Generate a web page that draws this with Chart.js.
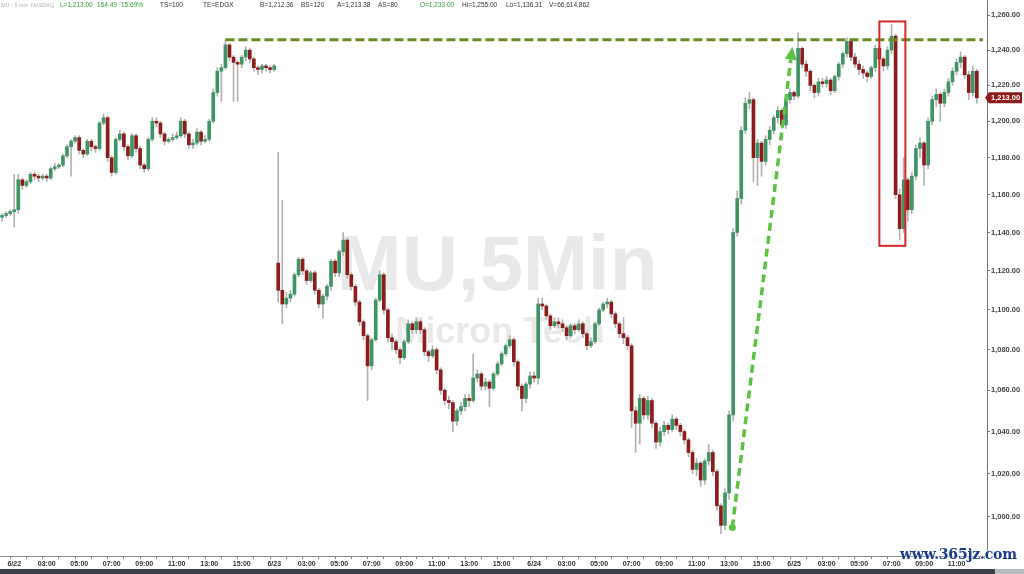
<!DOCTYPE html>
<html><head><meta charset="utf-8">
<script src="https://cdn.jsdelivr.net/npm/chart.js@4.4.1/dist/chart.umd.min.js"></script>
<style>
html,body{margin:0;padding:0;background:#fff;}
#wrap{position:relative;width:1024px;height:574px;overflow:hidden;background:#fff;}
#c{position:absolute;left:0;top:0;}
.h{position:absolute;top:1px;font:6.5px Arial,"Liberation Sans",sans-serif;white-space:nowrap;line-height:8px;}
.h.g{font-size:5.5px;}
#strip{position:absolute;left:0;top:569px;width:1024px;height:5px;background:#3b4046;}
#strip2{position:absolute;left:995px;top:569px;width:29px;height:5px;background:#b9bdc1;}
#site{position:absolute;left:900px;top:546px;font:bold 14px "DejaVu Serif",serif;color:#1d3a8a;text-shadow:0 0 2px #fff,0 0 2px #fff,0 0 1px #fff;letter-spacing:-0.2px;}
</style></head><body>
<div id="wrap">
<canvas id="c" width="1024" height="574"></canvas>
<div id="hdr"></div>
<div id="strip"></div><div id="strip2"></div>
<div id="site">www.365jz.com</div>
</div>
<script>
// ---- data (15-minute candles) ----
const sessions = ['6/22','6/23','6/24','6/25'];
const hourLabels = ['03:00','05:00','07:00','09:00','11:00','13:00','15:00'];
const yTickValues = [1000,1020,1040,1060,1080,1100,1120,1140,1160,1180,1200,1220,1240,1260];
const firstOpen = 1148;
const gapOpens = {68: 1124};
const closes = [
 // 6/21 late + 6/22
 1149,1150,1151,1152,1168,1165,1167,1171,1170,1169,
 1170,1169,1174,1175,1176,1181,1186,1189,1191,1184,
 1182,1189,1186,1185,1199,1202,1180,1172,1190,1193,
 1186,1181,1192,1185,1176,1174,1190,1200,1199,1193,
 1189,1190,1191,1192,1200,1193,1187,1188,1194,1189,
 1190,1200,1216,1228,1230,1243,1236,1233,1232,1236,
 1240,1235,1230,1229,1231,1230,1229,1231,
 // 6/23
 1110,1103,1106,1108,1118,1126,1120,1115,1119,1110,
 1103,1107,1112,1125,1119,1130,1136,1118,1112,1104,
 1094,1087,1072,1085,1105,1118,1100,1086,1084,1080,
 1076,1084,1093,1090,1094,1090,1079,1077,1080,1070,
 1060,1055,1054,1045,1050,1052,1056,1055,1066,1068,
 1062,1064,1061,1068,1073,1078,1082,1085,1074,1062,
 1056,1063,1067,1066,
 // 6/24
 1103,1102,1097,1092,1094,1093,1091,1087,1092,1090,
 1093,1088,1082,1084,1093,1100,1103,1104,1098,1093,
 1088,1086,1082,1050,1044,1056,1048,1055,1044,1035,
 1040,1043,1041,1046,1043,1040,1036,1030,1022,1025,
 1017,1026,1030,1021,1005,996,1011,1048,1140,1158,
 1195,1210,1212,1180,1188,1178,1190,1195,1202,1206,
 1198,1212,1216,1214,
 // 6/25
 1241,1232,1228,1220,1216,1222,1221,1223,1217,1225,
 1232,1238,1245,1236,1232,1229,1227,1225,1230,1241,
 1235,1231,1240,1248,1160,1142,1168,1152,1170,1185,
 1188,1176,1200,1212,1215,1210,1216,1222,1228,1233,
 1236,1226,1216,1228,1213
];
const highs = [
 1150,1151,1152,1171,1171,1169,1168,1172,1172,1171,
 1171,1171,1175,1177,1177,1182,1187,1190,1192,1192,
 1185,1190,1190,1187,1200,1204,1203,1181,1191,1195,
 1194,1187,1193,1193,1186,1177,1191,1202,1202,1200,
 1194,1191,1193,1194,1202,1201,1194,1190,1196,1195,
 1192,1201,1218,1230,1232,1246,1244,1237,1234,1237,
 1242,1241,1236,1231,1232,1232,1231,1232,
 1183,1157,1109,1110,1119,1127,1127,1121,1120,1120,
 1111,1108,1113,1126,1126,1131,1140,1137,1119,1113,
 1105,1095,1088,1086,1106,1120,1119,1101,1088,1085,
 1081,1085,1095,1094,1096,1095,1091,1080,1082,1081,
 1071,1061,1057,1055,1051,1054,1058,1058,1078,1070,
 1069,1066,1065,1069,1074,1079,1083,1087,1086,1075,
 1063,1064,1069,1069,
 1106,1106,1103,1098,1096,1096,1095,1092,1093,1093,
 1095,1094,1089,1086,1094,1101,1104,1106,1105,1099,
 1094,1096,1087,1083,1052,1058,1057,1057,1056,1045,
 1042,1045,1044,1048,1047,1044,1041,1037,1031,1027,
 1026,1027,1034,1031,1022,1006,1013,1050,1142,1162,
 1197,1213,1216,1213,1190,1189,1192,1197,1203,1208,
 1207,1213,1218,1217,
 1250,1242,1234,1229,1221,1224,1224,1225,1224,1226,
 1233,1239,1247,1246,1238,1234,1231,1228,1231,1243,
 1242,1236,1242,1255,1249,1163,1180,1169,1172,1187,
 1191,1189,1202,1214,1218,1216,1218,1224,1230,1235,
 1239,1237,1228,1231,1229
];
const lows = [
 1146,1148,1149,1143,1150,1163,1164,1166,1168,1167,
 1168,1167,1168,1173,1174,1175,1180,1170,1188,1182,
 1180,1181,1184,1183,1184,1198,1178,1170,1171,1189,
 1184,1179,1180,1183,1174,1172,1173,1189,1197,1191,
 1187,1188,1189,1190,1191,1191,1185,1185,1187,1187,
 1188,1189,1199,1214,1211,1229,1234,1211,1211,1230,
 1234,1233,1228,1226,1227,1228,1227,1228,
 1104,1093,1101,1104,1107,1117,1118,1113,1114,1108,
 1101,1096,1105,1110,1117,1117,1128,1116,1110,1102,
 1092,1085,1055,1070,1084,1104,1098,1084,1080,1078,
 1073,1075,1083,1088,1088,1088,1077,1074,1076,1068,
 1058,1053,1051,1040,1043,1048,1050,1052,1054,1064,
 1060,1060,1052,1060,1067,1072,1077,1081,1072,1060,
 1050,1054,1061,1064,
 1063,1100,1095,1090,1091,1091,1089,1085,1086,1088,
 1089,1086,1080,1081,1083,1092,1099,1101,1096,1091,
 1086,1083,1080,1042,1030,1034,1046,1046,1042,1032,
 1033,1038,1039,1040,1041,1038,1034,1028,1020,1019,
 1014,1015,1024,1019,1003,992,994,1008,1045,1138,
 1155,1193,1207,1167,1165,1170,1176,1187,1193,1199,
 1196,1196,1210,1212,
 1213,1230,1225,1217,1213,1214,1219,1219,1215,1216,
 1223,1230,1236,1234,1230,1226,1224,1222,1224,1228,
 1232,1228,1229,1238,1158,1136,1140,1146,1150,1168,
 1180,1165,1174,1198,1208,1200,1208,1214,1220,1226,
 1230,1224,1212,1214,1210
];
// annotations in data coordinates (slot index, price)
const resistance = {level: 1246, fromSlot: 55};
const rallyArrow = {from: [179.8, 995], to: [194.6, 1242]};
const reversalBox = {x0: 216, x1: 222.4, top: 1256.5, bottom: 1133};
const header = [
 ['MU - 5 min',1,'#b4b4b4','g'],['NASDAQ',31,'#b4b4b4','g'],
 ['L=1,213.00',60,'#2f9a35',''],['164.49',97,'#2f9a35',''],['15.69%',121,'#2f9a35',''],
 ['TS=100',160,'#333',''],['TE=EDGX',203,'#333',''],['B=1,212.36',260,'#333',''],['BS=120',301,'#333',''],
 ['A=1,213.38',337,'#333',''],['AS=80',378,'#333',''],['O=1,233.00',420,'#2f9a35',''],
 ['Hi=1,255.00',462,'#333',''],['Lo=1,136.31',506,'#333',''],['V=66,614,862',549,'#333','']
];
</script>
<script>
const hdr = document.getElementById('hdr');
header.forEach(([t,l,c,k])=>{const s=document.createElement('span');s.className='h '+k;s.textContent=t;s.style.left=l+'px';s.style.color=c;hdr.appendChild(s);});

const SLOTS = 243, PRE = 4, PER_DAY = 64;
const labels = [];
for (let i=0;i<SLOTS;i++){
  if (i<PRE){ labels.push('6/21 16:'+String(i*15).padStart(2,'0')); continue; }
  const d = Math.floor((i-PRE)/PER_DAY), k=(i-PRE)%PER_DAY;
  const hh = 1+Math.floor(k/4), mm=(k%4)*15;
  labels.push((sessions[d]||'6/26')+' '+String(hh).padStart(2,'0')+':'+String(mm).padStart(2,'0'));
}
function tickText(i){
  if (i<PRE) return '';
  const k=(i-PRE)%PER_DAY, d=Math.floor((i-PRE)/PER_DAY);
  if (k===0) return sessions[d]||'';
  if (k%8===0) return hourLabels[k/8-1]||'';
  return '';
}
const opens = closes.map((c,i)=> i===0 ? firstOpen : (gapOpens[i]!==undefined ? gapOpens[i] : closes[i-1]));
const UP='#3f9466', DOWN='#8c1c1c', WICK='#b2b2b2';
const bodyColors = closes.map((c,i)=> c>=opens[i]?UP:DOWN);

const decor = {
  id:'decor',
  beforeDatasetsDraw(chart){
    const ctx=chart.ctx; ctx.save();
    ctx.fillStyle='#e9e9e9'; ctx.textAlign='center'; ctx.textBaseline='alphabetic';
    ctx.font='bold 78px Arial, "Liberation Sans", sans-serif';
    ctx.fillText('MU,5Min', 497, 290);
    ctx.font='bold 36px Arial, "Liberation Sans", sans-serif';
    ctx.fillText('Micron Tech', 500, 343);
    ctx.restore();
  },
  afterDatasetsDraw(chart){
    const ctx=chart.ctx, xs=chart.scales.x, ys=chart.scales.y, a=chart.chartArea;
    ctx.save();
    const ry = ys.getPixelForValue(resistance.level);
    ctx.strokeStyle='#6a8a22'; ctx.lineWidth=3; ctx.setLineDash([9,4]);
    ctx.beginPath(); ctx.moveTo(xs.getPixelForValue(resistance.fromSlot), ry); ctx.lineTo(a.right-4, ry); ctx.stroke();
    const x0=xs.getPixelForValue(rallyArrow.from[0]), y0=ys.getPixelForValue(rallyArrow.from[1]);
    const x1=xs.getPixelForValue(rallyArrow.to[0]), y1=ys.getPixelForValue(rallyArrow.to[1]);
    const L=Math.hypot(x1-x0,y1-y0), ux=(x1-x0)/L, uy=(y1-y0)/L;
    const hl=13, hw=6;
    ctx.strokeStyle='#5cc242'; ctx.fillStyle='#5cc242'; ctx.lineWidth=3.5; ctx.setLineDash([8,5]);
    ctx.beginPath(); ctx.moveTo(x0,y0); ctx.lineTo(x1-ux*hl, y1-uy*hl); ctx.stroke();
    ctx.setLineDash([]);
    ctx.beginPath(); ctx.moveTo(x1,y1);
    ctx.lineTo(x1-ux*hl - uy*hw, y1-uy*hl + ux*hw);
    ctx.lineTo(x1-ux*hl + uy*hw, y1-uy*hl - ux*hw);
    ctx.closePath(); ctx.fill();
    ctx.beginPath(); ctx.arc(x0,y0,3.5,0,Math.PI*2); ctx.fill();
    const bx0=xs.getPixelForValue(reversalBox.x0), bx1=xs.getPixelForValue(reversalBox.x1);
    const by0=ys.getPixelForValue(reversalBox.top), by1=ys.getPixelForValue(reversalBox.bottom);
    ctx.strokeStyle='#cf2a2a'; ctx.lineWidth=2;
    ctx.strokeRect(bx0,by0,bx1-bx0,by1-by0);
    ctx.restore();
  },
  afterDraw(chart){
    const ctx=chart.ctx, ys=chart.scales.y, a=chart.chartArea;
    const last = closes[closes.length-1];
    const py = ys.getPixelForValue(last);
    ctx.save();
    ctx.fillStyle='#8e1b1b';
    ctx.beginPath(); ctx.moveTo(a.right-2, py); ctx.lineTo(a.right+2, py-5.5); ctx.lineTo(1022, py-5.5); ctx.lineTo(1022, py+5.5); ctx.lineTo(a.right+2, py+5.5); ctx.closePath(); ctx.fill();
    ctx.fillStyle='#fff'; ctx.font='bold 7.5px Arial, "Liberation Sans", sans-serif'; ctx.textBaseline='middle'; ctx.textAlign='left';
    ctx.fillText(last.toLocaleString('en-US',{minimumFractionDigits:2,maximumFractionDigits:2}), a.right+4, py+0.5);
    ctx.restore();
  }
};

new Chart(document.getElementById('c'), {
  type:'bar',
  data:{
    labels,
    datasets:[
      {label:'body', data: closes.map((c,i)=>[opens[i],c]), backgroundColor: bodyColors, barThickness:3, grouped:false, order:0, minBarLength:1, borderWidth:0},
      {label:'wick', data: lows.map((l,i)=>[l,highs[i]]), backgroundColor: WICK, barThickness:1, grouped:false, order:1, borderWidth:0}
    ]
  },
  options:{
    responsive:false, animation:false,
    layout:{padding:0},
    plugins:{legend:{display:false}, tooltip:{enabled:false}},
    scales:{
      x:{
        type:'category', offset:true,
        grid:{display:true, drawOnChartArea:false, drawTicks:true, tickLength:3, color:'#888'},
        border:{display:true, color:'#8a8a8a'},
        afterBuildTicks(s){ s.ticks = s.ticks.filter(t => t.value>=PRE && (t.value-PRE)%4===0); },
        afterFit(s){ s.height=18; s.paddingLeft=0; s.paddingRight=0; },
        ticks:{autoSkip:false, maxRotation:0, minRotation:0, padding:1, labelOffset:-4, color:'#333',
          font:{family:'Arial, "Liberation Sans", sans-serif', size:7, weight:'bold'},
          callback(v){ return tickText(v); }}
      },
      y:{
        type:'logarithmic', position:'right', min:982, max:1269,
        grid:{display:true, drawOnChartArea:false, drawTicks:true, tickLength:3, color:'#777'},
        border:{display:true, color:'#777'},
        afterBuildTicks(s){ s.ticks = yTickValues.map(v=>({value:v})); },
        afterFit(s){ s.width=37; s.paddingTop=0; s.paddingBottom=0; },
        ticks:{padding:1, color:'#444', font:{family:'Arial, "Liberation Sans", sans-serif', size:7.5, weight:'bold'},
          callback(v){ return Number(v).toLocaleString('en-US',{minimumFractionDigits:2,maximumFractionDigits:2}); }}
      }
    }
  },
  plugins:[decor]
});
</script>
</body></html>
